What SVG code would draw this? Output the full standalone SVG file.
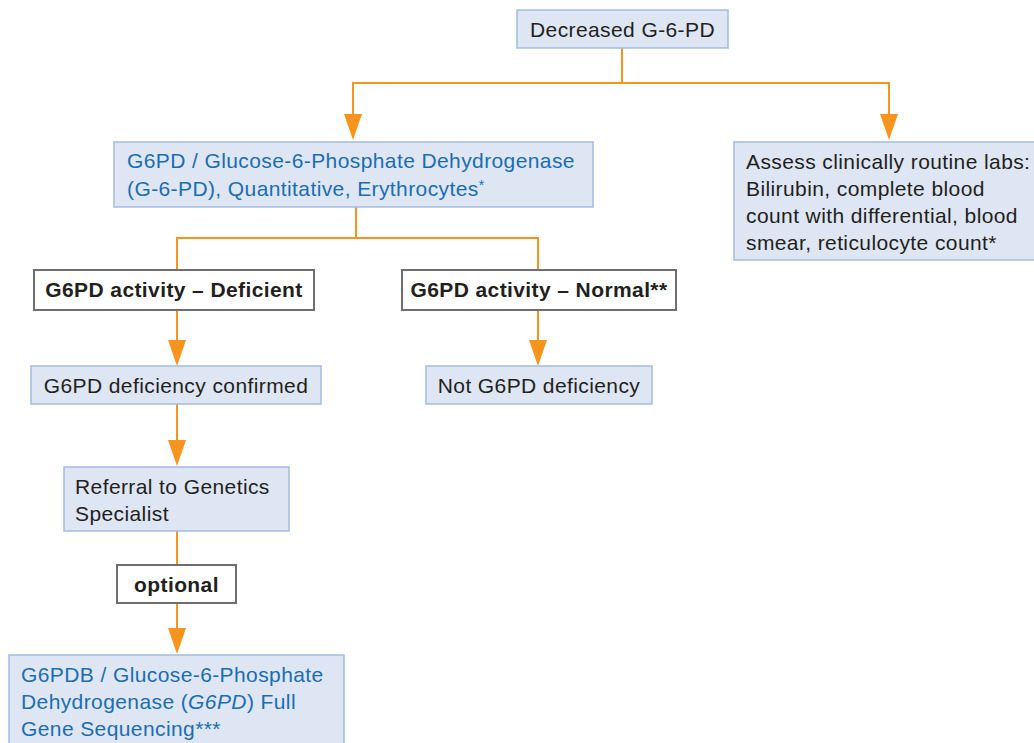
<svg xmlns="http://www.w3.org/2000/svg" width="1034" height="743" viewBox="0 0 1034 743">
<defs>
<marker id="arr" viewBox="0 0 18 26" refX="18" refY="9" markerWidth="18" markerHeight="26" markerUnits="userSpaceOnUse" orient="auto">
<path d="M0,0 L26,9 L0,18 Z" fill="#F7941D" transform="translate(0,0)"/>
</marker>
<style>
.box{fill:#DEE6F3;stroke:#A3BCE2;stroke-width:1.5}
.wbox{fill:#FFFFFF;stroke:#6D6E71;stroke-width:2}
.t{font-family:"Liberation Sans",Arial,sans-serif;font-size:21px;letter-spacing:0.4px;fill:#231F20}
.b{font-weight:bold}
.blue{fill:#1A6DB3}
.c{text-anchor:middle}
.ln{fill:none;stroke:#F7941D;stroke-width:2}
.ah{fill:#F7941D}
</style>
</defs>
<rect width="1034" height="743" fill="#FFFFFF"/>
<g id="connectors">
<polyline class="ln" points="622,48 622,83"/>
<polyline class="ln" points="353,120 353,83 889,83 889,120"/>
<polygon class="ah" points="344,114 362,114 353,140"/>
<polygon class="ah" points="880,114 898,114 889,140"/>
<polyline class="ln" points="356,207 356,238"/>
<polyline class="ln" points="177,270 177,238 538,238 538,270"/>
<polyline class="ln" points="177,310 177,345"/>
<polygon class="ah" points="168,340 186,340 177,366"/>
<polyline class="ln" points="538,310 538,345"/>
<polygon class="ah" points="529,340 547,340 538,366"/>
<polyline class="ln" points="177,404 177,445"/>
<polygon class="ah" points="168,440 186,440 177,466"/>
<polyline class="ln" points="177,531 177,565"/>
<polyline class="ln" points="177,603 177,634"/>
<polygon class="ah" points="168,628 186,628 177,654"/>
</g>
<g id="n-decreased">
<rect class="box" x="517" y="10" width="211" height="38"/>
<text class="t c" x="622.5" y="37">Decreased G-6-PD</text>
</g>
<g id="n-quant">
<rect class="box" x="114" y="142" width="479" height="65"/>
<text class="t blue" x="127" y="168">G6PD / Glucose-6-Phosphate Dehydrogenase</text>
<text class="t blue" x="127" y="196">(G-6-PD), Quantitative, Erythrocytes<tspan font-size="14" dy="-6">*</tspan></text>
</g>
<g id="n-labs">
<rect class="box" x="734" y="142" width="310" height="118"/>
<text class="t" x="746" y="169">Assess clinically routine labs:</text>
<text class="t" x="746" y="196">Bilirubin, complete blood</text>
<text class="t" x="746" y="223">count with differential, blood</text>
<text class="t" x="746" y="250">smear, reticulocyte count*</text>
</g>
<g id="n-deficient">
<rect class="wbox" x="34" y="270" width="280" height="40"/>
<text class="t b c" x="174" y="297">G6PD activity – Deficient</text>
</g>
<g id="n-normal">
<rect class="wbox" x="402" y="270" width="274" height="40"/>
<text class="t b c" x="539" y="297">G6PD activity – Normal**</text>
</g>
<g id="n-confirmed">
<rect class="box" x="31" y="366" width="290" height="38"/>
<text class="t c" x="176" y="393">G6PD deficiency confirmed</text>
</g>
<g id="n-not">
<rect class="box" x="426" y="366" width="226" height="38"/>
<text class="t c" x="539" y="393">Not G6PD deficiency</text>
</g>
<g id="n-referral">
<rect class="box" x="64" y="467" width="225" height="64"/>
<text class="t" x="75" y="494">Referral to Genetics</text>
<text class="t" x="75" y="521">Specialist</text>
</g>
<g id="n-optional">
<rect class="wbox" x="117" y="565" width="119" height="38"/>
<text class="t b c" x="176.5" y="592">optional</text>
</g>
<g id="n-seq">
<rect class="box" x="9" y="655" width="335" height="100"/>
<text class="t blue" x="21" y="682">G6PDB / Glucose-6-Phosphate</text>
<text class="t blue" x="21" y="709">Dehydrogenase (<tspan font-style="italic">G6PD</tspan>) Full</text>
<text class="t blue" x="21" y="736">Gene Sequencing***</text>
</g>
</svg>
